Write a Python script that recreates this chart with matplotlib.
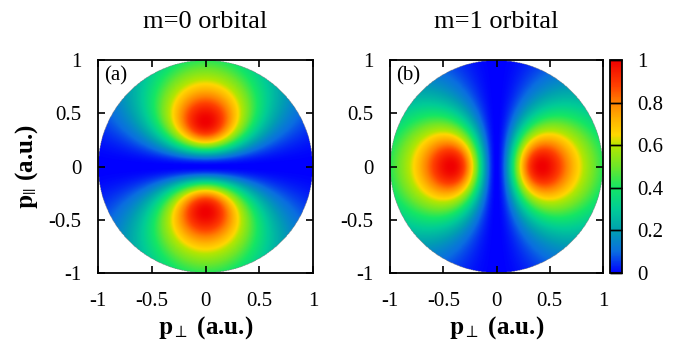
import numpy as np
import matplotlib

matplotlib.use('Agg')
import matplotlib.pyplot as plt
from matplotlib.colors import LinearSegmentedColormap

# Momentum plane and orbital lobe parameters
p_min, p_max = -1.0, 1.0
n_grid = 401
p_peak = 0.43          # |p| of the lobe maximum (a.u.)
n_pow = 2.5            # fall-off power of the radial factor
titles = ['m=0 orbital', 'm=1 orbital']
panel_tags = ['(a)', '(b)']
ticks = [-1, -0.5, 0, 0.5, 1]
tick_labels = ['-1', '-0.5', '0', '0.5', '1']
cb_ticks = [0, 0.2, 0.4, 0.6, 0.8, 1]
cb_labels = ['0', '0.2', '0.4', '0.6', '0.8', '1']

plt.rcParams['font.family'] = ['Liberation Serif', 'DejaVu Serif']
plt.rcParams['mathtext.fontset'] = 'stix'

# rainbow palette, blue -> green -> yellow -> red
pal = LinearSegmentedColormap.from_list('rainbow_pm', [
    (0.00, '#0000ff'),
    (0.10, '#0a6ee0'),
    (0.20, '#00a0b0'),
    (0.30, '#00cc96'),
    (0.40, '#14e664'),
    (0.50, '#6ee628'),
    (0.60, '#b4e600'),
    (0.65, '#ffd700'),
    (0.72, '#ffb400'),
    (0.80, '#ff8200'),
    (0.88, '#ff4000'),
    (1.00, '#f00000'),
])

p = np.linspace(p_min, p_max, n_grid)
PX, PY = np.meshgrid(p, p)
r2 = PX ** 2 + PY ** 2
c = (n_pow - 1) * p_peak ** 2   # puts the maximum at |q| = p_peak


def lobe(q):
    # q^2 / (p^2 + c)^n, normalised to 1 at the maximum
    w = q ** 2 / (r2 + c) ** n_pow
    w_max = p_peak ** 2 / (p_peak ** 2 + c) ** n_pow
    return np.ma.masked_where(r2 > 1.0, w / w_max)


maps = [lobe(PY), lobe(PX)]

fig = plt.figure(figsize=(6.89, 3.5), dpi=100)
W, H = 689.0, 350.0
boxes = [(98, 60, 313, 273), (390, 60, 603, 273)]

for i, (x0, y0, x1, y1) in enumerate(boxes):
    ax = fig.add_axes([x0 / W, 1 - y1 / H, (x1 - x0) / W, (y1 - y0) / H])
    im = ax.imshow(maps[i], extent=[p_min, p_max, p_min, p_max], origin='lower',
                   cmap=pal, vmin=0, vmax=1, interpolation='bilinear', aspect='auto')
    ax.set_xlim(p_min, p_max)
    ax.set_ylim(p_min, p_max)
    ax.set_xticks(ticks)
    ax.set_yticks(ticks)
    ax.set_xticklabels(tick_labels)
    ax.set_yticklabels(tick_labels)
    ax.tick_params(direction='in', length=5, width=1.2, top=True, right=True,
                   labelsize=15, pad=12)
    ax.tick_params(axis='x', pad=14)
    for s in ax.spines.values():
        s.set_linewidth(1.3)
    ax.text(0.03, 0.97, panel_tags[i], transform=ax.transAxes, ha='left', va='top',
            fontsize=15)
    ax.set_xlabel(r'$\mathbf{p}_{\perp}$ (a.u.)', fontsize=18, fontweight='bold',
                  labelpad=2)
    if i == 0:
        ax.set_ylabel(r'$\mathbf{p}_{||}$ (a.u.)', fontsize=18, fontweight='bold',
                      labelpad=6)
    fig.text((x0 + x1) / 2 / W, 1 - 22 / H, titles[i], ha='center', va='center',
             fontsize=19, family='Liberation Serif')

# Colour box
cax = fig.add_axes([610 / W, 1 - 273 / H, 12 / W, 213 / H])
cb = fig.colorbar(im, cax=cax, ticks=cb_ticks)
cb.ax.set_yticklabels(cb_labels)
cb.ax.tick_params(direction='in', length=8.5, width=1.0, left=True, right=True,
                  labelsize=15, pad=11)
cb.outline.set_linewidth(1.3)

fig.savefig('out.png', dpi=100)
